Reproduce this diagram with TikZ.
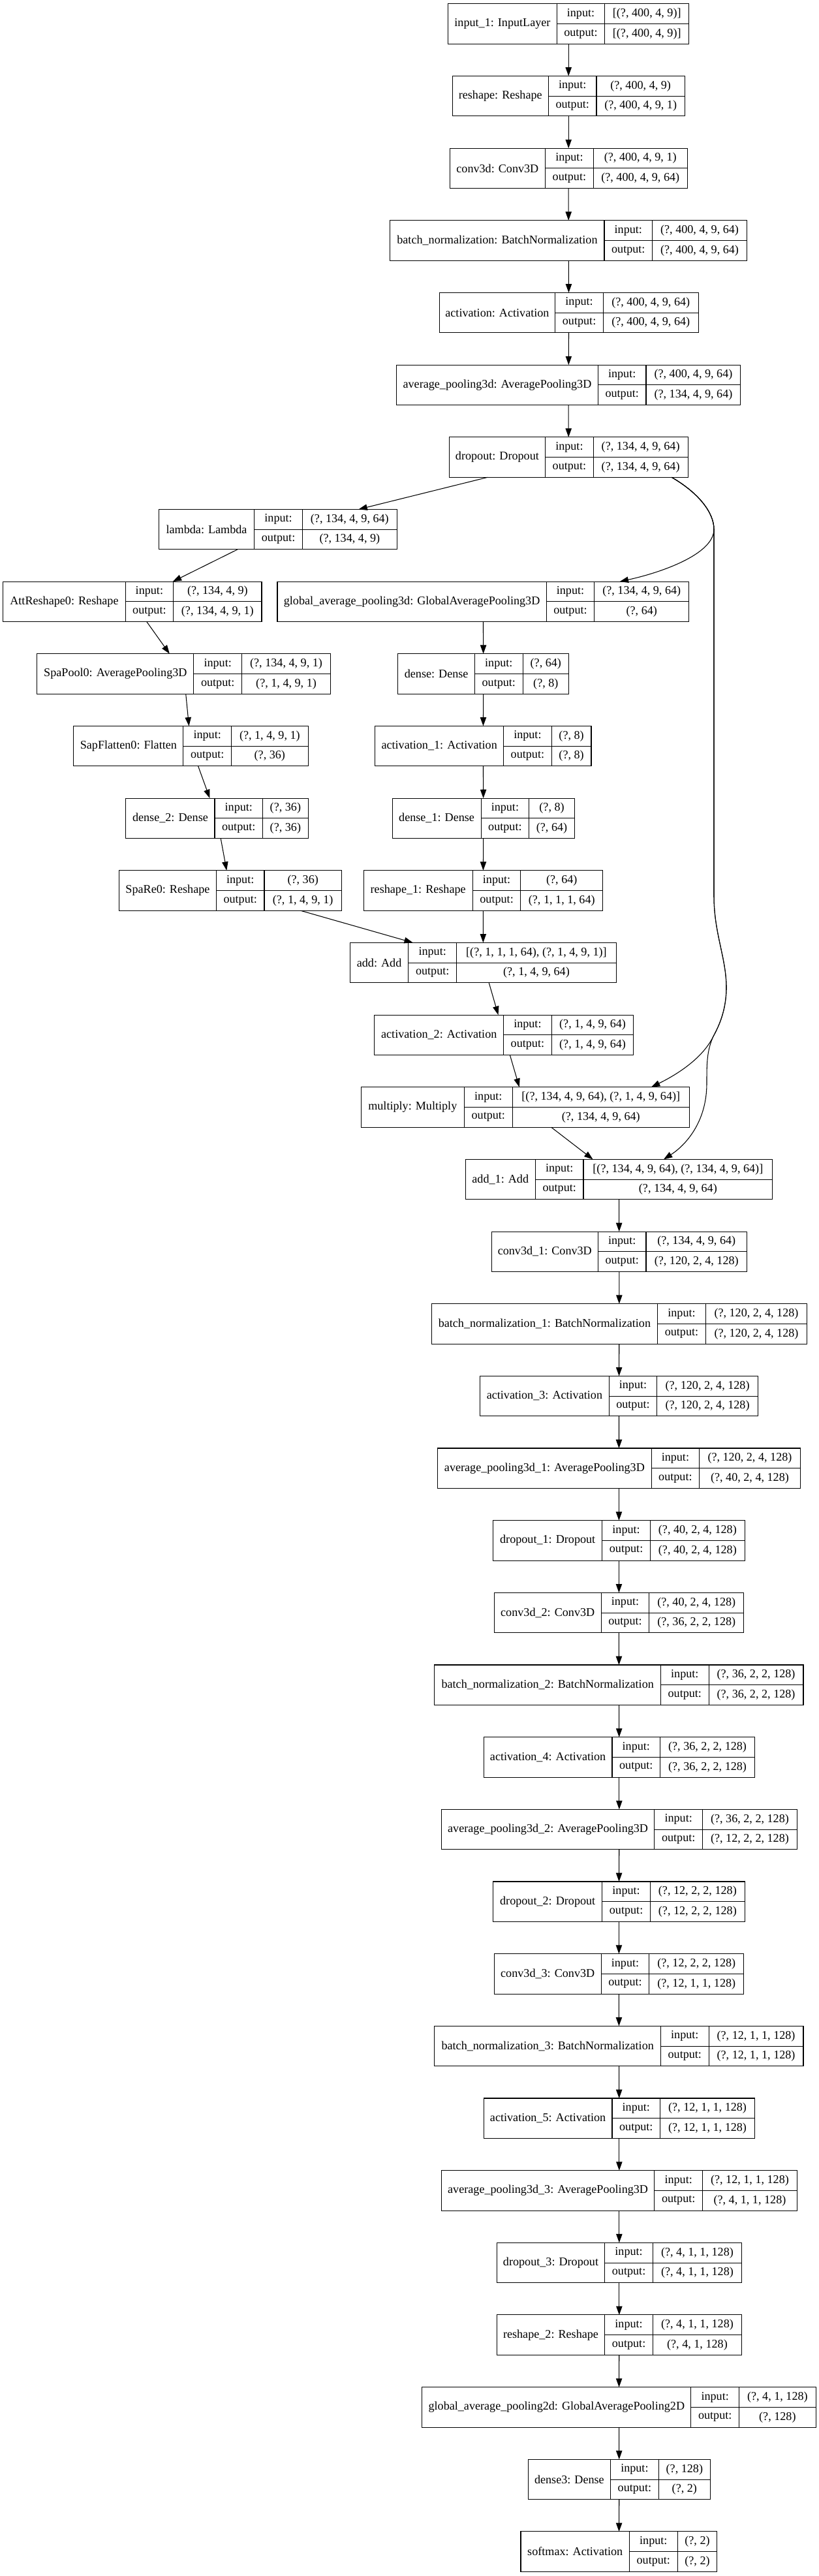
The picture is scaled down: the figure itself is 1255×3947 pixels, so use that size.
\documentclass[tikz,border=0pt]{standalone}
\usepackage{fontspec}
\setmainfont{Liberation Serif}
\usepackage{tikz}
\usetikzlibrary{positioning, arrows.meta, calc}

\tikzset{
  layer/.style={draw, line width=0.8pt, inner sep=0pt, outer sep=0pt, minimum height=46.125pt},
  lbl/.style={inner sep=0pt, font=\fontsize{13.6}{16}\selectfont},
  arr/.style={-{Triangle[length=10pt, width=7pt]}, line width=0.8pt}
}

% one keras record: name, row, left, split, right, label, input, output
\newcommand{\kerasbox}[8]{%
  \pgfmathsetmacro{\kbtop}{5.8+110.66*#2}
  \pgfmathsetmacro{\kbmid}{\kbtop+30.75}
  \pgfmathsetmacro{\kbbot}{\kbtop+61.5}
  \pgfmathsetmacro{\kbcut}{#4+73.6}
  \node[layer, minimum width={(#5-#3)*0.75pt}, anchor=north west] (#1) at (#3,\kbtop) {};
  \draw[line width=0.8pt] (#4,\kbtop) -- (#4,\kbbot) (\kbcut,\kbtop) -- (\kbcut,\kbbot) (#4,\kbmid) -- (#5,\kbmid);
  \node[lbl] (#1-name) at ({(#3+#4)/2},\kbmid) {#6};
  \node[lbl] (#1-in) at ({#4+36.8},{\kbtop+15.4}) {input:};
  \node[lbl] (#1-out) at ({#4+36.8},{\kbtop+46.1}) {output:};
  \node[lbl] (#1-inval) at ({(\kbcut+#5)/2},{\kbtop+15.4}) {#7};
  \node[lbl] (#1-outval) at ({(\kbcut+#5)/2},{\kbtop+46.1}) {#8};
}

\begin{document}
\begin{tikzpicture}[x=0.75pt, y=-0.75pt]
  \useasboundingbox (0,0) rectangle (1255,3947);

  % main trunk, top
  \kerasbox{input1}{0}{686.7}{853.2}{1055.7}{input\_1: InputLayer}{[(?, 400, 4, 9)]}{[(?, 400, 4, 9)]}
  \kerasbox{reshape}{1}{693.1}{840.4}{1049.3}{reshape: Reshape}{(?, 400, 4, 9)}{(?, 400, 4, 9, 1)}
  \kerasbox{conv3d}{2}{689.1}{835.6}{1053.3}{conv3d: Conv3D}{(?, 400, 4, 9, 1)}{(?, 400, 4, 9, 64)}
  \kerasbox{bn}{3}{597.9}{926.0}{1144.5}{batch\_normalization: BatchNormalization}{(?, 400, 4, 9, 64)}{(?, 400, 4, 9, 64)}
  \kerasbox{act}{4}{673.1}{850.8}{1070.1}{activation: Activation}{(?, 400, 4, 9, 64)}{(?, 400, 4, 9, 64)}
  \kerasbox{avgpool}{5}{607.5}{916.4}{1134.9}{average\_pooling3d: AveragePooling3D}{(?, 400, 4, 9, 64)}{(?, 134, 4, 9, 64)}
  \kerasbox{dropout}{6}{688.3}{835.6}{1054.1}{dropout: Dropout}{(?, 134, 4, 9, 64)}{(?, 134, 4, 9, 64)}

  % spatial attention branch
  \kerasbox{lambda}{7}{243.3}{389.8}{608.3}{lambda: Lambda}{(?, 134, 4, 9, 64)}{(?, 134, 4, 9)}
  \kerasbox{attreshape}{8}{4.8}{192.1}{401.0}{AttReshape0: Reshape}{(?, 134, 4, 9)}{(?, 134, 4, 9, 1)}
  \kerasbox{spapool}{9}{56.8}{296.9}{506.6}{SpaPool0: AveragePooling3D}{(?, 134, 4, 9, 1)}{(?, 1, 4, 9, 1)}
  \kerasbox{sapflatten}{10}{112.9}{280.9}{472.2}{SapFlatten0: Flatten}{(?, 1, 4, 9, 1)}{(?, 36)}
  \kerasbox{dense2}{11}{192.9}{329.0}{472.2}{dense\_2: Dense}{(?, 36)}{(?, 36)}
  \kerasbox{spare}{12}{182.5}{331.4}{523.4}{SpaRe0: Reshape}{(?, 36)}{(?, 1, 4, 9, 1)}

  % channel attention branch
  \kerasbox{gap3d}{8}{425.0}{837.2}{1055.7}{global\_average\_pooling3d: GlobalAveragePooling3D}{(?, 134, 4, 9, 64)}{(?, 64)}
  \kerasbox{dense}{9}{609.9}{727.5}{871.6}{dense: Dense}{(?, 64)}{(?, 8)}
  \kerasbox{act1}{10}{574.7}{771.6}{906.0}{activation\_1: Activation}{(?, 8)}{(?, 8)}
  \kerasbox{dense1}{11}{601.1}{737.1}{880.4}{dense\_1: Dense}{(?, 8)}{(?, 64)}
  \kerasbox{reshape1}{12}{557.1}{724.3}{923.6}{reshape\_1: Reshape}{(?, 64)}{(?, 1, 1, 1, 64)}

  % merge
  \kerasbox{add}{13}{536.3}{625.9}{944.4}{add: Add}{[(?, 1, 1, 1, 64), (?, 1, 4, 9, 1)]}{(?, 1, 4, 9, 64)}
  \kerasbox{act2}{14}{573.9}{771.6}{970.9}{activation\_2: Activation}{(?, 1, 4, 9, 64)}{(?, 1, 4, 9, 64)}
  \kerasbox{multiply}{15}{553.1}{711.5}{1056.5}{multiply: Multiply}{[(?, 134, 4, 9, 64), (?, 1, 4, 9, 64)]}{(?, 134, 4, 9, 64)}
  \kerasbox{add1}{16}{713.1}{820.4}{1183.7}{add\_1: Add}{[(?, 134, 4, 9, 64), (?, 134, 4, 9, 64)]}{(?, 134, 4, 9, 64)}

  % main trunk, bottom
  \kerasbox{conv3d1}{17}{753.2}{916.4}{1144.5}{conv3d\_1: Conv3D}{(?, 134, 4, 9, 64)}{(?, 120, 2, 4, 128)}
  \kerasbox{bn1}{18}{661.1}{1007.7}{1236.6}{batch\_normalization\_1: BatchNormalization}{(?, 120, 2, 4, 128)}{(?, 120, 2, 4, 128)}
  \kerasbox{act3}{19}{735.6}{933.2}{1161.4}{activation\_3: Activation}{(?, 120, 2, 4, 128)}{(?, 120, 2, 4, 128)}
  \kerasbox{avgpool1}{20}{670.7}{998.1}{1226.2}{average\_pooling3d\_1: AveragePooling3D}{(?, 120, 2, 4, 128)}{(?, 40, 2, 4, 128)}
  \kerasbox{dropout1}{21}{755.6}{922.8}{1141.3}{dropout\_1: Dropout}{(?, 40, 2, 4, 128)}{(?, 40, 2, 4, 128)}
  \kerasbox{conv3d2}{22}{757.2}{921.2}{1139.7}{conv3d\_2: Conv3D}{(?, 40, 2, 4, 128)}{(?, 36, 2, 2, 128)}
  \kerasbox{bn2}{23}{665.9}{1012.5}{1231.0}{batch\_normalization\_2: BatchNormalization}{(?, 36, 2, 2, 128)}{(?, 36, 2, 2, 128)}
  \kerasbox{act4}{24}{741.2}{938.0}{1156.5}{activation\_4: Activation}{(?, 36, 2, 2, 128)}{(?, 36, 2, 2, 128)}
  \kerasbox{avgpool2}{25}{676.3}{1002.9}{1221.4}{average\_pooling3d\_2: AveragePooling3D}{(?, 36, 2, 2, 128)}{(?, 12, 2, 2, 128)}
  \kerasbox{dropout2}{26}{755.6}{922.8}{1141.3}{dropout\_2: Dropout}{(?, 12, 2, 2, 128)}{(?, 12, 2, 2, 128)}
  \kerasbox{conv3d3}{27}{757.2}{921.2}{1139.7}{conv3d\_3: Conv3D}{(?, 12, 2, 2, 128)}{(?, 12, 1, 1, 128)}
  \kerasbox{bn3}{28}{665.9}{1012.5}{1231.0}{batch\_normalization\_3: BatchNormalization}{(?, 12, 1, 1, 128)}{(?, 12, 1, 1, 128)}
  \kerasbox{act5}{29}{741.2}{938.0}{1156.5}{activation\_5: Activation}{(?, 12, 1, 1, 128)}{(?, 12, 1, 1, 128)}
  \kerasbox{avgpool3}{30}{676.3}{1002.9}{1221.4}{average\_pooling3d\_3: AveragePooling3D}{(?, 12, 1, 1, 128)}{(?, 4, 1, 1, 128)}
  \kerasbox{dropout3}{31}{761.2}{926.8}{1136.5}{dropout\_3: Dropout}{(?, 4, 1, 1, 128)}{(?, 4, 1, 1, 128)}
  \kerasbox{reshape2}{32}{761.2}{926.8}{1136.5}{reshape\_2: Reshape}{(?, 4, 1, 1, 128)}{(?, 4, 1, 128)}
  \kerasbox{gap2d}{33}{646.7}{1058.9}{1250.2}{global\_average\_pooling2d: GlobalAveragePooling2D}{(?, 4, 1, 128)}{(?, 128)}
  \kerasbox{dense3}{34}{809.2}{935.6}{1088.5}{dense3: Dense}{(?, 128)}{(?, 2)}
  \kerasbox{softmax}{35}{798.0}{964.5}{1098.9}{softmax: Activation}{(?, 2)}{(?, 2)}

  % straight edges
  \foreach \a/\b in {input1/reshape, reshape/conv3d, conv3d/bn, bn/act, act/avgpool, avgpool/dropout,
      dropout/lambda, lambda/attreshape, attreshape/spapool, spapool/sapflatten, sapflatten/dense2,
      dense2/spare, spare/add, gap3d/dense, dense/act1, act1/dense1, dense1/reshape1, reshape1/add,
      add/act2, act2/multiply, multiply/add1, add1/conv3d1, conv3d1/bn1, bn1/act3, act3/avgpool1,
      avgpool1/dropout1, dropout1/conv3d2, conv3d2/bn2, bn2/act4, act4/avgpool2, avgpool2/dropout2,
      dropout2/conv3d3, conv3d3/bn3, bn3/act5, act5/avgpool3, avgpool3/dropout3, dropout3/reshape2,
      reshape2/gap2d, gap2d/dense3, dense3/softmax}
    \draw[arr] (\a) -- (\b);

  % skip edges from dropout
  \coordinate (forkA) at (1094,811);
  \coordinate (forkB) at (1093,1588);
  \draw[arr] ($(dropout.south east)+(-25,0)$) .. controls (1070,755) and (1094,785) .. (forkA)
    .. controls (1094,850) and (1010,878) .. ($(gap3d.north east)+(-106,0)$);
  \draw[arr] ($(dropout.south east)+(-25,0)$) .. controls (1070,755) and (1094,785) .. (forkA)
    -- (1094,1373) .. controls (1094,1430) and (1113,1468) .. (1113,1513)
    .. controls (1113,1550) and (1100,1575) .. (forkB)
    .. controls (1075,1625) and (1030,1650) .. ($(multiply.north east)+(-58.5,0)$);
  \draw[arr] ($(dropout.south east)+(-25,0)$) .. controls (1070,755) and (1094,785) .. (forkA)
    -- (1094,1373) .. controls (1094,1430) and (1113,1468) .. (1113,1513)
    .. controls (1113,1550) and (1100,1575) .. (forkB)
    .. controls (1083,1610) and (1083,1630) .. (1083,1660)
    .. controls (1083,1720) and (1050,1755) .. ($(add1.north east)+(-166.7,0)$);
\end{tikzpicture}
\end{document}
